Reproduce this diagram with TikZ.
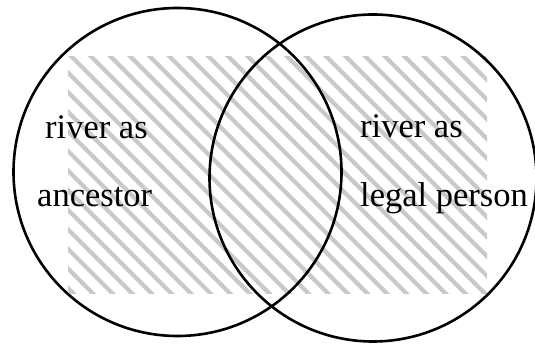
\documentclass[tikz,border=0pt]{standalone}
\usepackage{fontspec}
\setmainfont{Liberation Serif}
\begin{document}
\begin{tikzpicture}[x=1pt,y=-1pt,
  ring/.style={circle,draw=black,line width=2.6pt,inner sep=0pt},
  hatch/.style={draw=black!21,line width=4.2pt},
  lbl/.style={anchor=base west,inner sep=0pt,font=\fontsize{34.5}{40}\selectfont}]
\useasboundingbox (0,0) rectangle (535,344);
\begin{scope}
  \clip (68,57) rectangle (487,294);
  \foreach \k in {-14,...,23}
    \draw[hatch] ({15+19.6*\k+30},30) -- ({15+19.6*\k+320},320);
\end{scope}
\node[ring,minimum size=328pt] (L) at (177.5,172) {};
\node[ring,minimum size=327pt] (R) at (373,178) {};
\node[lbl] (l1) at (45,139) {river as};
\node[lbl] (l2) at (37,207) {ancestor};
\node[lbl] (r1) at (360,138) {river as};
\node[lbl] (r2) at (360,207) {legal person};
\end{tikzpicture}
\end{document}
